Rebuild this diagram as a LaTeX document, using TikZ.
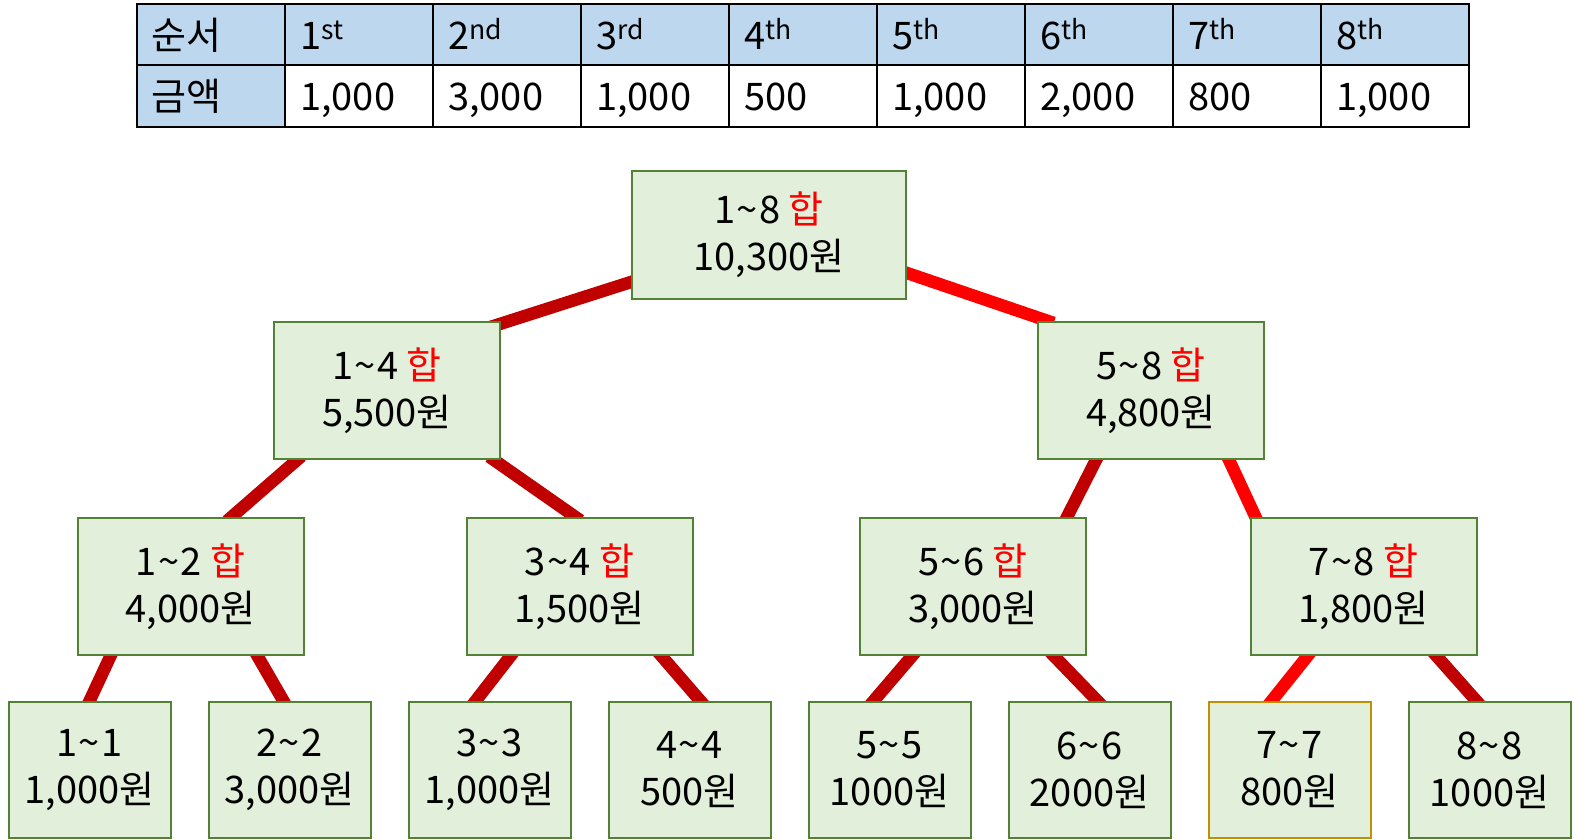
\documentclass[tikz,border=0pt]{standalone}
\usepackage{fontspec}
\setmainfont{Noto Sans CJK KR}
\usetikzlibrary{calc,backgrounds}
\definecolor{boxfill}{HTML}{E2EFDA}
\definecolor{boxline}{HTML}{548235}
\definecolor{goldline}{HTML}{BF9000}
\definecolor{darkred}{HTML}{C00000}
\definecolor{brightred}{HTML}{FF0000}
\definecolor{headfill}{HTML}{BDD7EE}
\newcommand{\mytilde}{\kern1.5pt\textasciitilde\kern1.5pt}
\newcommand{\hap}{\textcolor{brightred}{합}}
\tikzset{
  sumbox/.style={draw=boxline, line width=2pt, fill=boxfill, align=center, inner sep=0pt},
  topbox/.style={sumbox, minimum width=274pt, minimum height=128pt},
  midbox/.style={sumbox, minimum width=226pt, minimum height=137pt},
  leafbox/.style={sumbox, minimum width=162pt, minimum height=136pt},
  edge/.style={line width=12.5pt, darkred, shorten <=-6pt, shorten >=-6pt},
  hotedge/.style={edge, brightred},
  celltext/.style={anchor=base west, inner sep=0pt}
}
\begin{document}
\begin{tikzpicture}[x=1pt, y=-1pt, font=\fontsize{38}{47}\selectfont]
\useasboundingbox (0,0) rectangle (1574,839);

% ---- table ----
\fill[headfill] (137,4) rectangle (1469,65);
\fill[headfill] (137,65) rectangle (285,127);
\foreach \i in {1,...,8} {
  \draw[line width=1.2pt] ({137+148*\i},4) -- ({137+148*\i},127);
}
\draw[line width=1.2pt] (137,65) -- (1469,65);
\draw[line width=1.6pt] (137,4) rectangle (1469,127);

\node[celltext] (h0) at (151,49) {순서};
\node[celltext] (h1) at (300,49) {1\textsuperscript{st}};
\node[celltext] (h2) at (448,49) {2\textsuperscript{nd}};
\node[celltext] (h3) at (596,49) {3\textsuperscript{rd}};
\node[celltext] (h4) at (744,49) {4\textsuperscript{th}};
\node[celltext] (h5) at (892,49) {5\textsuperscript{th}};
\node[celltext] (h6) at (1040,49) {6\textsuperscript{th}};
\node[celltext] (h7) at (1188,49) {7\textsuperscript{th}};
\node[celltext] (h8) at (1336,49) {8\textsuperscript{th}};

\node[celltext] (v0) at (151,110) {금액};
\node[celltext] (v1) at (300,110) {1,000};
\node[celltext] (v2) at (448,110) {3,000};
\node[celltext] (v3) at (596,110) {1,000};
\node[celltext] (v4) at (744,110) {500};
\node[celltext] (v5) at (892,110) {1,000};
\node[celltext] (v6) at (1040,110) {2,000};
\node[celltext] (v7) at (1188,110) {800};
\node[celltext] (v8) at (1336,110) {1,000};

% ---- tree nodes ----
\node[topbox] (root) at (769,235) {1\mytilde8 \hap\\10,300원};
\node[midbox] (n14) at (387,390.5) {1\mytilde4 \hap\\5,500원};
\node[midbox] (n58) at (1151,390.5) {5\mytilde8 \hap\\4,800원};
\node[midbox] (n12) at (190.5,586.5) {1\mytilde2 \hap\\4,000원};
\node[midbox] (n34) at (579.5,586.5) {3\mytilde4 \hap\\1,500원};
\node[midbox] (n56) at (973,586.5) {5\mytilde6 \hap\\3,000원};
\node[midbox] (n78) at (1363.5,586.5) {7\mytilde8 \hap\\1,800원};
\node[leafbox] (n11) at (89.5,770) {1\mytilde1\\1,000원};
\node[leafbox] (n22) at (289.5,770) {2\mytilde2\\3,000원};
\node[leafbox] (n33) at (489.5,770) {3\mytilde3\\1,000원};
\node[leafbox] (n44) at (689.5,770) {4\mytilde4\\500원};
\node[leafbox] (n55) at (889.5,770) {5\mytilde5\\1000원};
\node[leafbox] (n66) at (1089.5,770) {6\mytilde6\\2000원};
\node[leafbox, draw=goldline] (n77) at (1289.5,770) {7\mytilde7\\800원};
\node[leafbox] (n88) at (1489.5,770) {8\mytilde8\\1000원};

% ---- connectors ----
\begin{scope}[on background layer]
\draw[edge] ($(root.west)+(0,47)$) -- ($(n14.north east)+(-20,9)$);
\draw[hotedge] ($(root.east)+(0,38)$) -- ($(n58.north west)+(11,0)$);
\draw[edge] ($(n14.south)+(-90,0)$) -- ($(n12.north)+(41,0)$);
\draw[edge] ($(n14.south)+(107,0)$) -- ($(n34.north)+(-4,0)$);
\draw[edge] ($(n58.south)+(-55,0)$) -- ($(n56.north)+(94,0)$);
\draw[hotedge] ($(n58.south)+(78,0)$) -- ($(n78.north)+(-108,0)$);
\draw[edge] ($(n12.south)+(-80,0)$) -- ($(n11.north)+(0,0)$);
\draw[edge] ($(n12.south)+(67,0)$) -- ($(n22.north)+(-6,0)$);
\draw[edge] ($(n34.south)+(-69,0)$) -- ($(n33.north)+(-14,0)$);
\draw[edge] ($(n34.south)+(82,0)$) -- ($(n44.north)+(11,0)$);
\draw[edge] ($(n56.south)+(-61,0)$) -- ($(n55.north)+(-16,0)$);
\draw[edge] ($(n56.south)+(81,0)$) -- ($(n66.north)+(8,0)$);
\draw[hotedge] ($(n78.south)+(-56,0)$) -- ($(n77.north)+(-18,0)$);
\draw[edge] ($(n78.south)+(73,0)$) -- ($(n88.north)+(-13,0)$);
\end{scope}
\end{tikzpicture}
\end{document}
